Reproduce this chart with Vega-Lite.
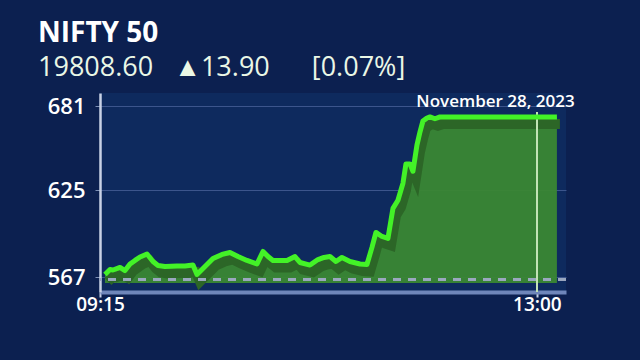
{
  "$schema": "https://vega.github.io/schema/vega-lite/v6.json",
  "width": 466,
  "height": 199,
  "autosize": {"type": "none"},
  "padding": {"left": 100, "top": 93, "right": 74, "bottom": 68},
  "background": "#0c2050",
  "view": {"fill": "#0e2a5e", "stroke": null},
  "title": {
    "text": "NIFTY 50",
    "subtitle": "19808.60\u00a0\u00a0\u00a0▲13.90\u00a0\u00a0\u00a0\u00a0\u00a0\u00a0[0.07%]",
    "anchor": "start",
    "frame": "group",
    "dx": -62,
    "offset": 11,
    "font": "Open Sans",
    "fontSize": 28,
    "fontWeight": "bold",
    "color": "#ffffff",
    "subtitleFont": "Open Sans",
    "subtitleFontSize": 27,
    "subtitleColor": "#eaf7e6",
    "subtitlePadding": 7
  },
  "data": {
    "values": [
      {"t": "2023-11-28T09:17:34", "v": 568.7},
      {"t": "2023-11-28T09:20:09", "v": 572.0},
      {"t": "2023-11-28T09:21:41", "v": 571.7},
      {"t": "2023-11-28T09:25:18", "v": 573.4},
      {"t": "2023-11-28T09:27:52", "v": 571.3},
      {"t": "2023-11-28T09:30:27", "v": 575.7},
      {"t": "2023-11-28T09:33:01", "v": 578.1},
      {"t": "2023-11-28T09:35:36", "v": 580.4},
      {"t": "2023-11-28T09:39:12", "v": 582.4},
      {"t": "2023-11-28T09:42:17", "v": 577.4},
      {"t": "2023-11-28T09:44:52", "v": 574.7},
      {"t": "2023-11-28T09:48:28", "v": 574.0},
      {"t": "2023-11-28T09:54:39", "v": 574.4},
      {"t": "2023-11-28T09:58:46", "v": 574.4},
      {"t": "2023-11-28T10:02:53", "v": 575.0},
      {"t": "2023-11-28T10:04:57", "v": 568.7},
      {"t": "2023-11-28T10:08:02", "v": 572.7},
      {"t": "2023-11-28T10:13:11", "v": 579.4},
      {"t": "2023-11-28T10:17:49", "v": 582.1},
      {"t": "2023-11-28T10:21:56", "v": 583.4},
      {"t": "2023-11-28T10:26:04", "v": 580.7},
      {"t": "2023-11-28T10:30:42", "v": 578.1},
      {"t": "2023-11-28T10:35:51", "v": 575.7},
      {"t": "2023-11-28T10:38:56", "v": 584.1},
      {"t": "2023-11-28T10:41:31", "v": 580.7},
      {"t": "2023-11-28T10:44:05", "v": 578.1},
      {"t": "2023-11-28T10:51:17", "v": 578.1},
      {"t": "2023-11-28T10:55:25", "v": 580.7},
      {"t": "2023-11-28T10:57:59", "v": 576.7},
      {"t": "2023-11-28T11:03:08", "v": 575.0},
      {"t": "2023-11-28T11:07:15", "v": 578.7},
      {"t": "2023-11-28T11:10:21", "v": 580.1},
      {"t": "2023-11-28T11:13:26", "v": 580.7},
      {"t": "2023-11-28T11:16:31", "v": 577.4},
      {"t": "2023-11-28T11:19:37", "v": 580.1},
      {"t": "2023-11-28T11:23:44", "v": 577.4},
      {"t": "2023-11-28T11:28:53", "v": 575.7},
      {"t": "2023-11-28T11:32:29", "v": 575.4},
      {"t": "2023-11-28T11:35:04", "v": 586.8},
      {"t": "2023-11-28T11:37:07", "v": 596.8},
      {"t": "2023-11-28T11:40:13", "v": 594.1},
      {"t": "2023-11-28T11:43:18", "v": 592.8},
      {"t": "2023-11-28T11:44:51", "v": 604.9},
      {"t": "2023-11-28T11:45:53", "v": 612.9},
      {"t": "2023-11-28T11:48:27", "v": 618.3},
      {"t": "2023-11-28T11:51:02", "v": 629.7},
      {"t": "2023-11-28T11:52:34", "v": 642.6},
      {"t": "2023-11-28T11:54:38", "v": 642.6},
      {"t": "2023-11-28T11:56:10", "v": 637.7},
      {"t": "2023-11-28T11:58:14", "v": 655.2},
      {"t": "2023-11-28T11:59:47", "v": 663.9},
      {"t": "2023-11-28T12:01:19", "v": 671.3},
      {"t": "2023-11-28T12:03:23", "v": 673.3},
      {"t": "2023-11-28T12:04:56", "v": 674.0},
      {"t": "2023-11-28T12:07:30", "v": 672.8},
      {"t": "2023-11-28T12:10:05", "v": 674.0},
      {"t": "2023-11-28T13:10:19", "v": 674.0}
    ]
  },
  "layer": [
    {
      "mark": {"type": "area", "color": "#3a8733", "opacity": 0.95},
      "encoding": {
        "x": {
          "field": "t",
          "type": "temporal",
          "title": "November 28, 2023",
          "scale": {"domain": [
            {"year": 2023, "month": 11, "date": 28, "hours": 9, "minutes": 15},
            {"year": 2023, "month": 11, "date": 28, "hours": 13, "minutes": 15}
          ]},
          "axis": {
            "values": [
              {"year": 2023, "month": 11, "date": 28, "hours": 9, "minutes": 15},
              {"year": 2023, "month": 11, "date": 28, "hours": 13, "minutes": 0}
            ],
            "format": "%H:%M",
            "grid": false,
            "labelFont": "Open Sans",
            "labelFontSize": 19,
            "labelFontWeight": 600,
            "labelColor": "#ffffff",
            "labelFlush": false,
            "labelOverlap": false,
            "labelPadding": -2,
            "tickSize": 5,
            "tickWidth": 2,
            "tickColor": "#c9d2e6",
            "domainColor": "#6f86ba",
            "domainWidth": 4,
            "titleFont": "Open Sans",
            "titleFontSize": 17,
            "titleFontWeight": 600,
            "titleColor": "#ffffff",
            "titleX": 395,
            "titleY": -186,
            "titleAlign": "center",
            "titleBaseline": "alphabetic"
          }
        },
        "y": {
          "field": "v",
          "type": "quantitative",
          "title": null,
          "scale": {"domain": [557, 690], "zero": false, "nice": false},
          "axis": {
            "values": [567, 625, 681],
            "labelFont": "Open Sans",
            "labelFontSize": 22,
            "labelFontWeight": 600,
            "labelColor": "#ffffff",
            "labelPadding": 10,
            "tickSize": 5,
            "tickColor": "#7d8fb5",
            "domainColor": "#c9d2e6",
            "domainWidth": 2.5,
            "grid": true,
            "gridColor": "#5068a0",
            "gridOpacity": 0.7,
            "gridWidth": 1
          }
        },
        "y2": {"datum": 563}
      }
    },
    {
      "mark": {"type": "line", "color": "#2c6627", "strokeWidth": 10, "xOffset": 3, "yOffset": 7},
      "encoding": {
        "x": {"field": "t", "type": "temporal", "title": "November 28, 2023"},
        "y": {"field": "v", "type": "quantitative", "title": null}
      }
    },
    {
      "mark": {"type": "rule", "color": "#9aa8c0", "strokeDash": [8, 7], "strokeWidth": 2},
      "encoding": {"y": {"datum": 565.6}}
    },
    {
      "mark": {"type": "rule", "color": "#c2e3b5", "strokeWidth": 1.5},
      "encoding": {
        "x": {"datum": {"year": 2023, "month": 11, "date": 28, "hours": 13, "minutes": 0}, "type": "temporal"},
        "y": {"datum": 677},
        "y2": {"datum": 557}
      }
    },
    {
      "mark": {"type": "line", "color": "#43f227", "strokeWidth": 5, "strokeJoin": "round"},
      "encoding": {
        "x": {"field": "t", "type": "temporal", "title": "November 28, 2023"},
        "y": {"field": "v", "type": "quantitative", "title": null}
      }
    }
  ]
}
